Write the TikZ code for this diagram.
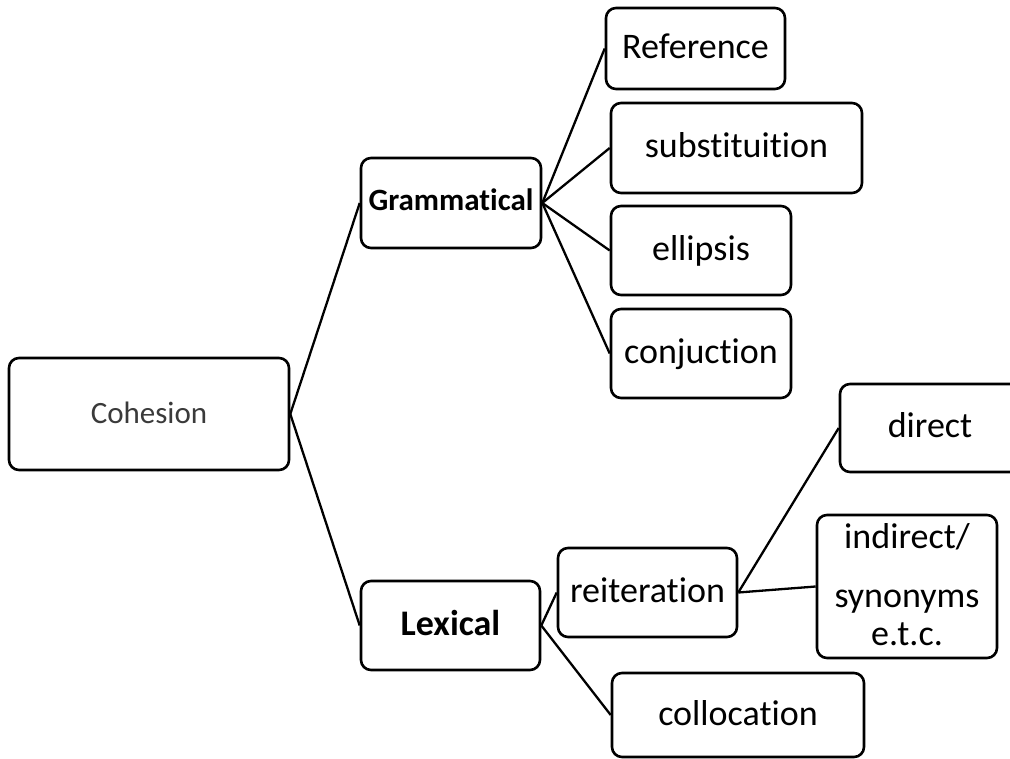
\documentclass[tikz,border=0pt]{standalone}
\usepackage{fontspec}
\setmainfont{Carlito}[Ligatures=NoCommon]
\definecolor{cohgray}{HTML}{3A3A3A}
\begin{document}
\begin{tikzpicture}[x=1pt,y=-1pt,
  box/.style={draw, line width=2.6pt, rounded corners=10pt, inner sep=0pt,
    font=\fontsize{36}{40}\selectfont, text height=28pt, text depth=8pt},
  link/.style={line width=2.3pt}]
\useasboundingbox (0,0) rectangle (1010,759);
\clip (0,0) rectangle (1010,759);

% root
\node[box, minimum width=280pt, minimum height=112pt, text=cohgray,
  font=\fontsize{31}{36}\selectfont, text height=25pt, text depth=6pt]
  (coh) at (149,414) {Cohesion};

% first level
\node[box, minimum width=180pt, minimum height=90pt,
  font=\fontsize{31}{36}\selectfont\bfseries, text height=24pt, text depth=8pt]
  (gram) at (451,203) {Grammatical};
\node[box, minimum width=179pt, minimum height=89pt, font=\fontsize{36}{40}\selectfont\bfseries]
  (lex) at (450.5,625.5) {Lexical};

% grammatical cohesion
\node[box, minimum width=179pt, minimum height=81pt] (ref) at (695.5,48.5) {Reference};
\node[box, minimum width=251pt, minimum height=90pt] (sub) at (736.5,148) {substituition};
\node[box, minimum width=180pt, minimum height=89pt] (ell) at (701,250.5) {ellipsis};
\node[box, minimum width=180pt, minimum height=89pt] (con) at (701,353.5) {conjuction};

% lexical cohesion
\node[box, minimum width=179pt, minimum height=89pt] (rei) at (647.5,592.5) {reiteration};
\node[box, minimum width=252pt, minimum height=84pt] (col) at (738,715) {collocation};
\node[box, minimum width=180pt, minimum height=88pt] (dir) at (930,428) {direct};
\node[box, minimum width=180pt, minimum height=143pt, text height=, text depth=]
  (ind) at (907,586.5)
  {\vbox to 143pt{\offinterlineskip\hsize=180pt
     \vskip 33pt \hbox to\hsize{\hss\smash{indirect/}\hss}
     \vskip 59pt \hbox to\hsize{\hss\smash{synonyms}\hss}
     \vskip 38pt \hbox to\hsize{\hss\smash{e.t.c.}\hss}
     \vfill}};

% connectors
\draw[link] (coh.east) -- (gram.west);
\draw[link] (coh.east) -- (lex.west);
\foreach \t in {ref,sub,ell,con} \draw[link] (gram.east) -- (\t.west);
\draw[link] (lex.east) -- (rei.west);
\draw[link] (lex.east) -- (col.west);
\draw[link] (rei.east) -- (dir.west);
\draw[link] (rei.east) -- (ind.west);
\end{tikzpicture}
\end{document}
